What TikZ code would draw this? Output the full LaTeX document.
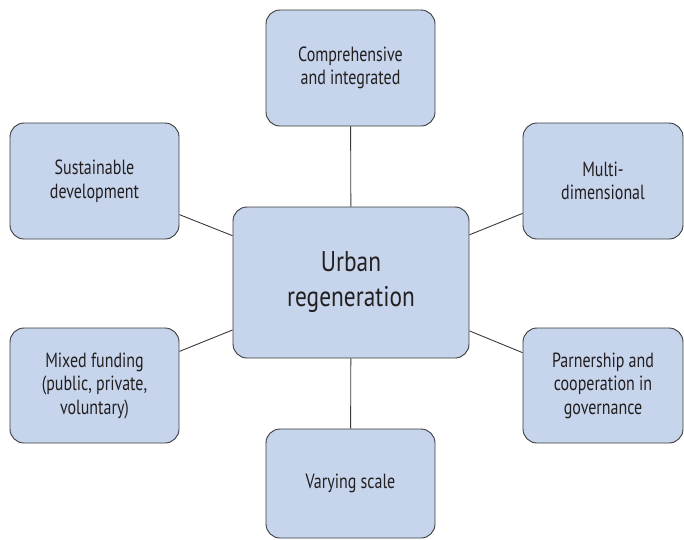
\documentclass[tikz,border=0pt]{standalone}
\usepackage{fontspec}
\setmainfont{PT Sans}[FakeStretch=0.78]
\newfontfamily\bigfont{PT Sans}[FakeStretch=0.82]
\definecolor{boxfill}{HTML}{C6D5EC}
\definecolor{boxline}{HTML}{3A3A3A}
\definecolor{txt}{HTML}{231F20}
\begin{document}
\begin{tikzpicture}[x=1pt,y=-1pt,
  box/.style={draw=boxline,line width=0.9pt,fill=boxfill,rounded corners=14pt,
    align=center,text=txt,font=\fontsize{20.5}{23.5}\selectfont,inner sep=0pt},
  link/.style={draw=boxline,line width=0.9pt}]
\useasboundingbox (0,0) rectangle (684,539);
\node[box,minimum width=236pt,minimum height=151pt,font=\bigfont\fontsize{28.5}{35}\selectfont] (c) at (351,282.5) {Urban\\regeneration};
\node[box,minimum width=169pt,minimum height=116pt] (t) at (350.5,68) {Comprehensive\\and integrated};
\node[box,minimum width=169pt,minimum height=116pt] (lt) at (94.5,181) {Sustainable\\development};
\node[box,minimum width=160pt,minimum height=116pt] (rt) at (603,181) {Multi-\\dimensional};
\node[box,minimum width=169pt,minimum height=115pt] (lb) at (94.5,385.5) {Mixed funding\\(public, private,\\voluntary)};
\node[box,minimum width=160pt,minimum height=115pt] (rb) at (603,385.5) {Parnership and\\cooperation in\\governance};
\node[box,minimum width=169pt,minimum height=109pt] (b) at (350.5,483.5) {Varying scale};
\draw[link] (t) -- (c);
\draw[link] (lt) -- (c);
\draw[link] (rt) -- (c);
\draw[link] (lb) -- (c);
\draw[link] (rb) -- (c);
\draw[link] (b) -- (c);
\end{tikzpicture}
\end{document}
